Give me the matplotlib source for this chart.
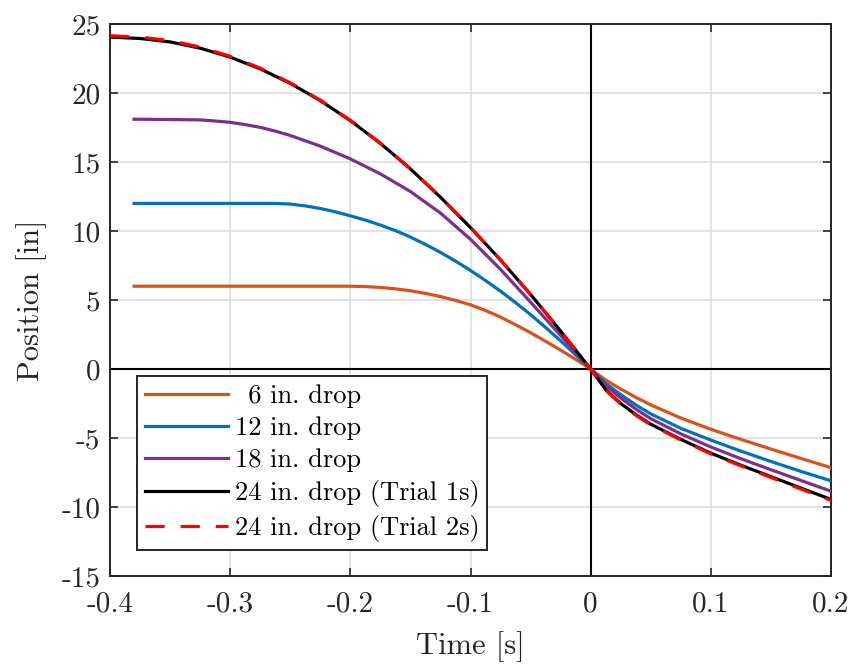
import matplotlib
matplotlib.use("Agg")
import matplotlib.pyplot as plt

plt.rcParams['font.family'] = ['cmr10', 'DejaVu Serif']
plt.rcParams['mathtext.fontset'] = 'cm'
plt.rcParams['axes.unicode_minus'] = False

# ---------------- data ----------------
t_24 = [-0.400, -0.375, -0.350, -0.325, -0.300, -0.275, -0.250, -0.225, -0.200,
        -0.175, -0.150, -0.125, -0.100, -0.075, -0.050, -0.025, 0.0,
        0.0125, 0.025, 0.0375, 0.050, 0.075, 0.100, 0.125, 0.150, 0.175, 0.200]
pos_24_trial1 = [24.05, 23.95, 23.70, 23.25, 22.60, 21.75, 20.70, 19.45, 18.00,
                 16.35, 14.50, 12.45, 10.25, 7.90, 5.40, 2.75, 0.0,
                 -1.50, -2.50, -3.30, -4.00, -5.10, -6.10, -6.97, -7.80, -8.63, -9.45]
pos_24_trial2 = [24.15, 24.05, 23.80, 23.33, 22.66, 21.80, 20.74, 19.48, 18.02,
                 16.37, 14.52, 12.46, 10.26, 7.91, 5.40, 2.75, 0.0,
                 -1.52, -2.54, -3.34, -4.04, -5.14, -6.15, -7.02, -7.86, -8.70, -9.52]

t_18 = [-0.380, -0.350, -0.325, -0.3125, -0.300, -0.2875, -0.275, -0.2625, -0.250,
        -0.225, -0.200, -0.175, -0.150, -0.125, -0.100, -0.075, -0.050, -0.025, 0.0,
        0.0125, 0.025, 0.0375, 0.050, 0.075, 0.100, 0.125, 0.150, 0.175, 0.200]
pos_18 = [18.10, 18.08, 18.05, 17.97, 17.875, 17.71, 17.51, 17.24, 16.925,
          16.15, 15.225, 14.14, 12.86, 11.30, 9.40, 7.22, 4.84, 2.43, 0.0,
          -1.20, -2.10, -2.90, -3.60, -4.70, -5.65, -6.50, -7.30, -8.08, -8.85]

t_12 = [-0.380, -0.350, -0.300, -0.2625, -0.250, -0.2375, -0.225, -0.2125, -0.200,
        -0.1875, -0.175, -0.1625, -0.150, -0.1375, -0.125, -0.1125, -0.100,
        -0.0875, -0.075, -0.0625, -0.050, -0.0375, -0.025, -0.0125, 0.0,
        0.0125, 0.025, 0.0375, 0.050, 0.075, 0.100, 0.125, 0.150, 0.175, 0.200]
pos_12 = [12.00, 12.00, 12.00, 12.00, 11.95, 11.82, 11.63, 11.39, 11.10,
          10.79, 10.43, 10.03, 9.56, 9.03, 8.45, 7.82, 7.14,
          6.41, 5.64, 4.81, 3.94, 3.01, 2.04, 1.03, 0.0,
          -1.05, -1.85, -2.60, -3.25, -4.30, -5.15, -5.95, -6.70, -7.42, -8.10]

t_6 = [-0.380, -0.350, -0.300, -0.250, -0.200, -0.1875, -0.175, -0.1625, -0.150,
       -0.1375, -0.125, -0.1125, -0.100, -0.0875, -0.075, -0.0625, -0.050,
       -0.0375, -0.025, -0.0125, 0.0,
       0.0125, 0.025, 0.0375, 0.050, 0.075, 0.100, 0.125, 0.150, 0.175, 0.200]
pos_6 = [6.00, 6.00, 6.00, 6.00, 6.00, 5.975, 5.91, 5.81, 5.67,
         5.48, 5.25, 4.97, 4.65, 4.24, 3.76, 3.21, 2.63,
         2.01, 1.37, 0.70, 0.0,
         -0.80, -1.45, -2.05, -2.60, -3.55, -4.37, -5.10, -5.80, -6.48, -7.15]

labels = ["\u20026 in. drop", "12 in. drop", "18 in. drop",
          "24 in. drop (Trial 1s)", "24 in. drop (Trial 2s)"]

x_ticks = [-0.4, -0.3, -0.2, -0.1, 0.0, 0.1, 0.2]
x_ticklabels = ["-0.4", "-0.3", "-0.2", "-0.1", "0", "0.1", "0.2"]
y_ticks = [-15, -10, -5, 0, 5, 10, 15, 20, 25]
y_ticklabels = ["-15", "-10", "-5", "0", "5", "10", "15", "20", "25"]

# ---------------- styling ----------------
c_orange = (0.850, 0.325, 0.098)
c_blue = (0.000, 0.447, 0.741)
c_purple = (0.494, 0.184, 0.556)
c_axis = (0.15, 0.15, 0.15)

fig = plt.figure(figsize=(8.56, 6.67), dpi=100)
ax = fig.add_axes([110/856, 1 - 576/667, (831-110)/856, (576-24)/667])

ax.axhline(0, color='black', lw=1.5, zorder=1.5)
ax.axvline(0, color='black', lw=1.5, zorder=1.5)

lw = 2.3
ax.plot(t_6, pos_6, color=c_orange, lw=lw, label=labels[0], zorder=3)
ax.plot(t_12, pos_12, color=c_blue, lw=lw, label=labels[1], zorder=3)
ax.plot(t_18, pos_18, color=c_purple, lw=lw, label=labels[2], zorder=3)
ax.plot(t_24, pos_24_trial1, color='black', lw=lw, label=labels[3], zorder=3)
ax.plot(t_24, pos_24_trial2, color='red', lw=lw, ls=(0, (6, 5)), label=labels[4], zorder=4)

ax.set_xlim(-0.4, 0.2)
ax.set_ylim(-15, 25)
ax.set_xticks(x_ticks)
ax.set_xticklabels(x_ticklabels)
ax.set_yticks(y_ticks)
ax.set_yticklabels(y_ticklabels)

ax.grid(True, color=(0.86, 0.86, 0.86), lw=1.1, zorder=0)
ax.set_axisbelow(True)
for s in ax.spines.values():
    s.set_color(c_axis)
    s.set_linewidth(1.4)
ax.tick_params(direction='in', length=6, width=1.2, color=c_axis,
               top=True, right=True, labelsize=21, labelcolor=c_axis)
ax.tick_params(axis='x', pad=11)
ax.tick_params(axis='y', pad=7)

ax.set_xlabel("Time [s]", fontsize=22, color=c_axis, labelpad=10)
ax.set_ylabel("Position [in]", fontsize=22, color=c_axis, labelpad=10)

leg = ax.legend(loc='lower left', bbox_to_anchor=(0.037, 0.047), fontsize=19,
                frameon=True, fancybox=False, edgecolor=c_axis, framealpha=1,
                handlelength=3.15, handletextpad=0.26, labelspacing=0.31,
                borderpad=0.3, borderaxespad=0.0)
leg.get_frame().set_linewidth(1.4)

fig.savefig("out.png", dpi=100)
